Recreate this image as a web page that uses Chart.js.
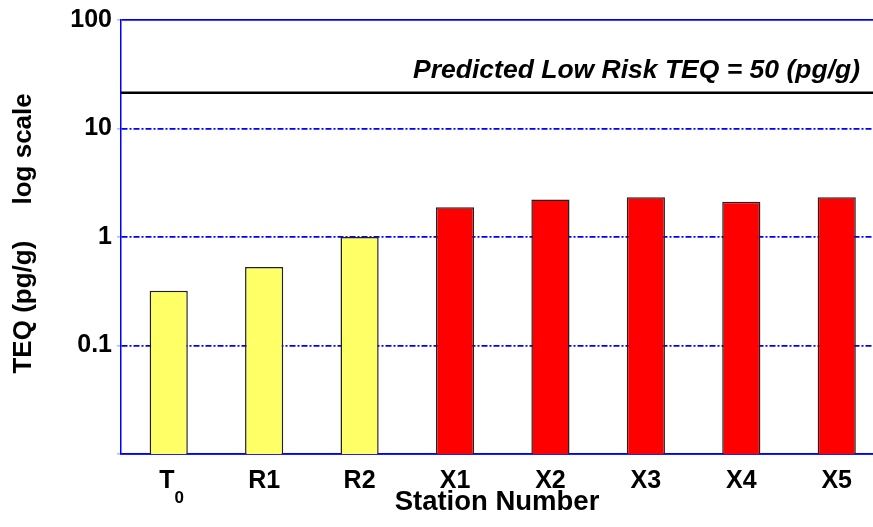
<!DOCTYPE html>
<html><head><meta charset="utf-8">
<script src="https://cdn.jsdelivr.net/npm/chart.js@4/dist/chart.umd.min.js"></script>
<style>html,body{margin:0;padding:0;background:#fff;}#wrap{width:873px;height:527px;}</style>
</head><body><div id="wrap"><canvas id="c" width="873" height="527"></canvas></div>
<script>
const stations = ['T0', 'R1', 'R2', 'X1', 'X2', 'X3', 'X4', 'X5'];
const teq = [0.32, 0.53, 1.0, 1.88, 2.22, 2.33, 2.11, 2.33];
const barColors = ['#FFFF66', '#FFFF66', '#FFFF66', '#FF0000', '#FF0000', '#FF0000', '#FF0000', '#FF0000'];
const yTicks = [0.01, 0.1, 1, 10, 100];
const yTickLabels = ['', '0.1', '1', '10', '100'];
const riskLineValue = [21.4];
const riskLabel = 'Predicted Low Risk TEQ = 50 (pg/g)';
const xTitle = 'Station Number';
const yTitle = ' TEQ (pg/g)     log scale';
const xRange = [-0.5, 7.38];

const FAM = '"Liberation Sans", Arial, sans-serif';
Chart.defaults.font.family = FAM;
Chart.defaults.color = '#000';

const labelPlugin = {
  id: 'labels',
  afterDraw(chart) {
    const { ctx, scales: { x, y }, chartArea } = chart;
    ctx.save();
    ctx.fillStyle = '#000';
    ctx.textBaseline = 'alphabetic';
    const base = chartArea.bottom + 34;
    stations.forEach((s, i) => {
      const px = x.getPixelForValue(i);
      if (s === 'T0') {
        ctx.font = 'bold 25px ' + FAM;
        const wT = ctx.measureText('T').width;
        ctx.font = 'bold 17px ' + FAM;
        const w0 = ctx.measureText('0').width;
        const start = px - (wT + w0) / 2 + 3;
        ctx.textAlign = 'left';
        ctx.font = 'bold 25px ' + FAM;
        ctx.fillText('T', start, base);
        ctx.font = 'bold 17px ' + FAM;
        ctx.fillText('0', start + wT, base + 15);
      } else {
        ctx.textAlign = 'center';
        ctx.font = 'bold 25px ' + FAM;
        ctx.fillText(s, px, base);
      }
    });
    ctx.font = 'italic bold 26.5px ' + FAM;
    ctx.textAlign = 'right';
    ctx.fillText(riskLabel, chartArea.right - 13, y.getPixelForValue(riskLineValue[0]) - 15);
    ctx.restore();
  }
};

new Chart(document.getElementById('c'), {
  data: {
    datasets: [
      {
        type: 'line',
        data: xRange.map(v => ({ x: v, y: riskLineValue[0] })),
        borderColor: '#000',
        borderWidth: 2.5,
        pointRadius: 0,
        order: 0
      },
      {
        type: 'bar',
        data: teq.map((v, i) => ({ x: i, y: v })),
        backgroundColor: barColors,
        borderColor: '#222',
        borderWidth: 1.5,
        barPercentage: 0.4,
        categoryPercentage: 1,
        order: 1
      }
    ]
  },
  options: {
    responsive: false,
    animation: false,
    devicePixelRatio: 1,
    layout: { padding: { left: 8, top: 19, right: 0, bottom: 0 } },
    plugins: { legend: { display: false }, tooltip: { enabled: false } },
    scales: {
      x: {
        type: 'linear',
        offset: false,
        min: xRange[0],
        max: xRange[1],
        afterBuildTicks: s => { s.ticks = stations.map((_, i) => ({ value: i })); },
        afterFit: s => { s.height = 73; },
        ticks: { display: false },
        grid: { display: false, offset: false },
        border: { display: true, color: '#0000FF', width: 1.5 },
        title: { display: true, text: xTitle, font: { size: 27.5, weight: 'bold' }, color: '#000', padding: { top: 0, bottom: 8 } }
      },
      y: {
        type: 'logarithmic',
        min: yTicks[0],
        max: yTicks[yTicks.length - 1],
        afterBuildTicks: s => { s.ticks = yTicks.map(v => ({ value: v })); },
        afterFit: s => { s.width = 113; },
        ticks: {
          font: { size: 25, weight: 'bold' },
          color: '#000',
          padding: 5,
          callback: v => yTickLabels[yTicks.indexOf(v)]
        },
        grid: {
          color: '#0000FF',
          lineWidth: 1.8,
          drawTicks: true,
          tickLength: 4,
          tickColor: '#7799FF',
          tickWidth: 1
        },
        border: {
          display: true,
          color: '#0000FF',
          width: 1.5,
          dash: ctx => {
            const t = ctx.tick;
            if (!t) return [];
            return (t.value === 100 || t.value === 0.01) ? [] : [6, 2, 2, 2];
          }
        },
        title: { display: true, text: yTitle, font: { size: 26, weight: 'bold' }, color: '#000', padding: { top: 0, bottom: 0 } }
      }
    }
  },
  plugins: [labelPlugin]
});
</script>
</body></html>
